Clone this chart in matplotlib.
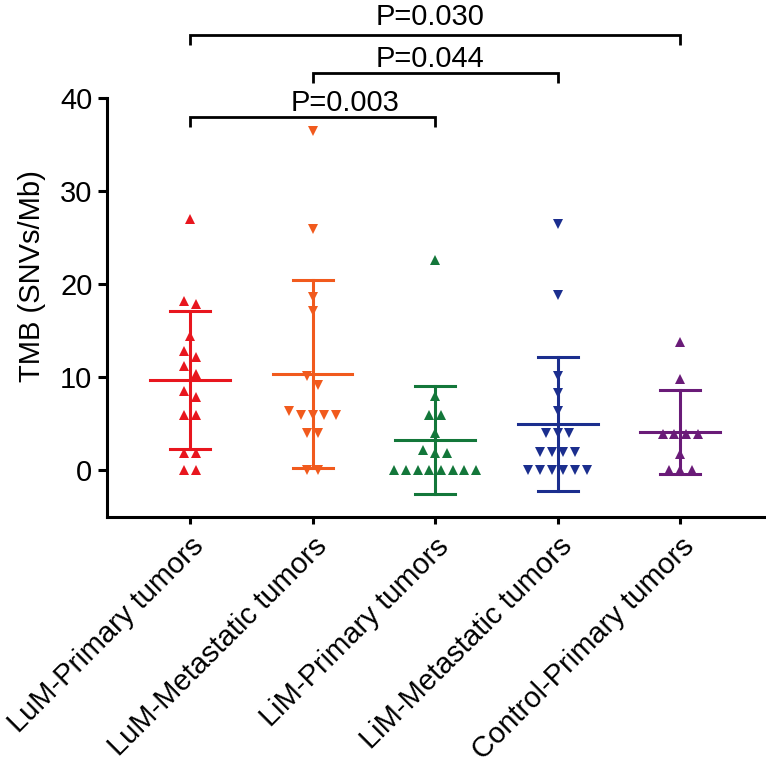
import numpy as np
import matplotlib
matplotlib.use("Agg")
import matplotlib.pyplot as plt

plt.rcParams['font.family'] = ['Liberation Sans', 'DejaVu Sans']

categories = ["LuM-Primary tumors", "LuM-Metastatic tumors", "LiM-Primary tumors",
              "LiM-Metastatic tumors", "Control-Primary tumors"]

lum_primary = [27.0, 18.2, 17.9, 14.4, 12.8, 12.2, 11.2, 10.3, 8.5, 7.9, 5.9, 5.9, 1.9, 1.9, 0.0, 0.0]
lum_metastatic = [36.4, 25.9, 18.6, 17.1, 10.1, 9.2, 6.4, 6.0, 6.0, 6.0, 6.0, 4.0, 4.0, 0.0, 0.0]
lim_primary = [22.6, 8.0, 6.0, 6.0, 4.0, 2.2, 1.9, 1.9, 0.0, 0.0, 0.0, 0.0, 0.0, 0.0, 0.0, 0.0]
lim_metastatic = [26.4, 18.8, 10.1, 8.3, 6.4, 4.0, 4.0, 4.0, 2.0, 2.0, 2.0, 2.0,
                  0.0, 0.0, 0.0, 0.0, 0.0, 0.0]
control_primary = [13.8, 9.8, 3.9, 3.9, 3.9, 3.9, 1.8, 0.0, 0.0, 0.0]

groups = [lum_primary, lum_metastatic, lim_primary, lim_metastatic, control_primary]
colors = ['#E8161E', '#F15A1D', '#13773A', '#1B2E8E', '#6A1B78']
markers = ['^', 'v', '^', 'v', '^']

comparisons = [(0, 2, "P=0.003"), (1, 3, "P=0.044"), (0, 4, "P=0.030")]
y_ticks = [0, 10, 20, 30, 40]

FS = 21

fig = plt.figure(figsize=(7.66, 7.68), dpi=100)
ax = fig.add_axes([0.1397, 0.3268, 0.8603, 0.546])


def swarm_offsets(vals, d=0.0954, thr=0.95):
    vals = np.asarray(vals, dtype=float)
    order = np.argsort(-vals, kind='stable')
    offs = np.zeros(len(vals))
    clusters = []
    cur = [order[0]]
    for i in order[1:]:
        if abs(vals[cur[-1]] - vals[i]) < thr:
            cur.append(i)
        else:
            clusters.append(cur)
            cur = [i]
    clusters.append(cur)
    for cl in clusters:
        n = len(cl)
        pos = (np.arange(n) - (n - 1) / 2.0) * d
        for k, idx in enumerate(cl):
            offs[idx] = pos[k]
    return offs


lw = 2.2
for gi, (vals, col, mk) in enumerate(zip(groups, colors, markers)):
    v = np.asarray(vals, dtype=float)
    xs = gi + swarm_offsets(v)
    m = v.mean()
    sd = v.std(ddof=1)
    ax.plot([gi, gi], [m - sd, m + sd], color=col, lw=lw, zorder=2)
    ax.plot([gi - 0.163, gi + 0.163], [m - sd, m - sd], color=col, lw=lw, zorder=2)
    ax.plot([gi - 0.163, gi + 0.163], [m + sd, m + sd], color=col, lw=lw, zorder=2)
    ax.plot([gi - 0.326, gi + 0.326], [m, m], color=col, lw=lw, zorder=2)
    ax.plot(xs, v, linestyle='none', marker=mk, color=col, markersize=6.8,
            markeredgewidth=0, zorder=3)

# significance brackets
bracket_y = [37.96, 42.69, 46.74]
text_x = [1.264, 1.958, 1.958]
text_y = [38.6, 43.33, 47.81]
for (a, b, label), by, tx, ty in zip(comparisons, bracket_y, text_x, text_y):
    ax.plot([a, a, b, b], [by - 1.07, by, by, by - 1.07], color='black', lw=2.0,
            clip_on=False, solid_joinstyle='miter', solid_capstyle='butt')
    ax.text(tx, ty, label, ha='center', va='baseline', fontsize=FS, clip_on=False)

ax.set_xlim(-0.677, 4.70)
ax.set_ylim(-5, 40)
ax.set_yticks(y_ticks)
ax.set_xticks(range(len(categories)))
ax.set_xticklabels(categories, rotation=45, ha='right', rotation_mode='anchor',
                   fontsize=FS)
ax.tick_params(axis='y', labelsize=FS, width=2.2, length=6.5, pad=4)
ax.tick_params(axis='x', width=2.2, length=5, pad=6)
for s in ['top', 'right']:
    ax.spines[s].set_visible(False)
for s in ['left', 'bottom']:
    ax.spines[s].set_linewidth(2.2)

ax.set_ylabel("TMB (SNVs/Mb)", fontsize=FS)
ax.yaxis.set_label_coords(-0.0926, 0.575)

fig.savefig("out.png", dpi=100)
